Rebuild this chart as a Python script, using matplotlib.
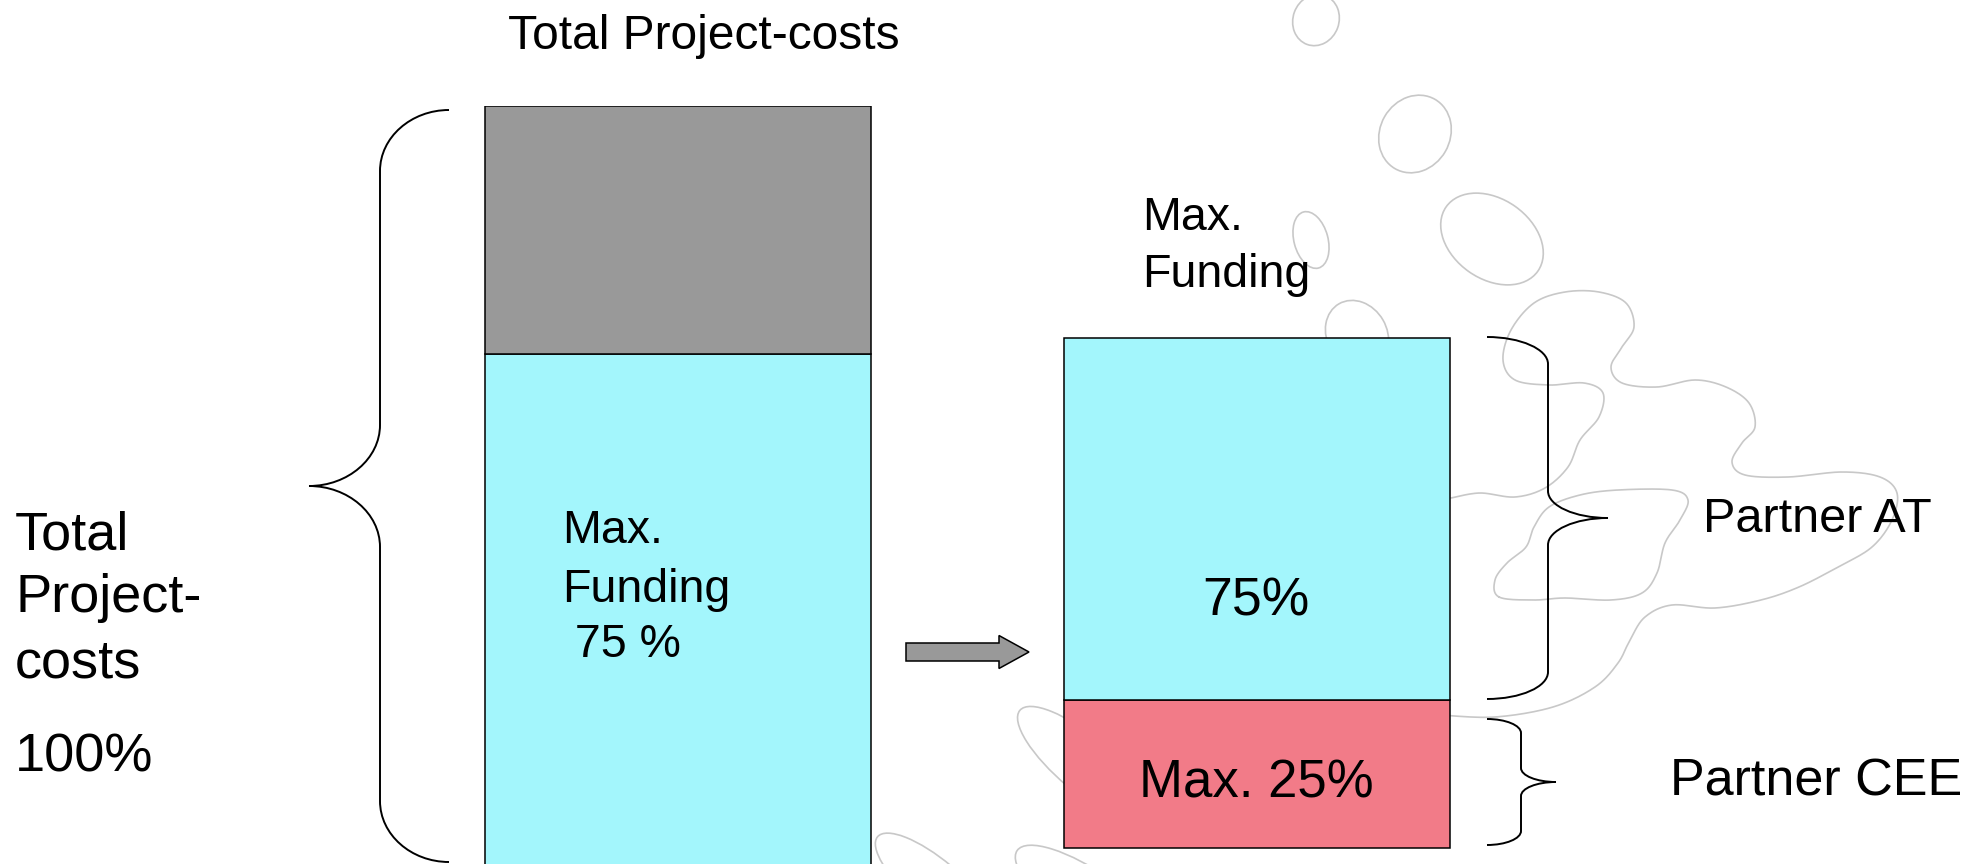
import numpy as np
import matplotlib.pyplot as plt
from matplotlib.patches import Ellipse, FancyArrow, PathPatch
from matplotlib.path import Path

plt.rcParams["font.family"] = ["Liberation Sans", "DejaVu Sans"]

# Share of total project costs (%), as drawn in the diagram
left_funding = 75      # max. funding part (cyan)
left_rest = 25         # not funded (grey)
right_bottom = 25.2    # the funding bar floats next to the total bar
right_cee = 14.9       # Partner CEE, max. 25 %
right_at = 36.5        # Partner AT, 75 %

CYAN = "#a3f6fc"
GREY = "#999999"
RED = "#f27b88"
DOODLE = "#c8c8c8"

W, H = 1984, 864
fig = plt.figure(figsize=(W / 100, H / 100), dpi=100)

# background doodles, pixel coordinates
bg = fig.add_axes([0, 0, 1, 1])
bg.set_xlim(0, W)
bg.set_ylim(H, 0)
bg.axis("off")

ellipses = [  # (cx, cy, w, h, angle)
    (1316, 20, 46, 52, 20),
    (1415, 134, 70, 80, 30),
    (1311, 240, 34, 58, -15),
    (1492, 239, 112, 80, 35),
    (1357, 335, 60, 72, -30),
    (1085, 765, 170, 55, 40),
    (935, 885, 150, 50, 40),
    (1095, 905, 190, 60, 35),
]
for cx, cy, w, h, ang in ellipses:
    bg.add_patch(Ellipse((cx, cy), w, h, angle=ang, fill=False,
                         ec=DOODLE, lw=1.2))


def smooth(pts, closed=True, n=20):
    # Catmull-Rom through the points
    p = np.array(pts, float)
    if closed:
        p = np.vstack([p[-1], p, p[0], p[1]])
    else:
        p = np.vstack([p[0], p, p[-1]])
    out = []
    t = np.linspace(0, 1, n, endpoint=False)[:, None]
    for i in range(1, len(p) - 2):
        p0, p1, p2, p3 = p[i - 1], p[i], p[i + 1], p[i + 2]
        out.append(0.5 * ((2 * p1) + (-p0 + p2) * t
                          + (2 * p0 - 5 * p1 + 4 * p2 - p3) * t ** 2
                          + (-p0 + 3 * p1 - 3 * p2 + p3) * t ** 3))
    out = np.vstack(out)
    if closed:
        out = np.vstack([out, out[0]])
    return out


blob = [(1451, 498), (1480, 493), (1515, 497), (1545, 488), (1568, 467),
        (1580, 440), (1599, 417), (1603, 393), (1584, 383), (1549, 385),
        (1515, 380), (1503, 360), (1511, 330), (1534, 303), (1565, 292),
        (1599, 292), (1626, 303), (1634, 327), (1622, 347), (1611, 367),
        (1622, 383), (1657, 387), (1695, 380), (1726, 387), (1749, 403),
        (1755, 427), (1742, 443), (1732, 462), (1745, 475), (1788, 477),
        (1842, 472), (1880, 477), (1897, 493), (1892, 520), (1872, 547),
        (1838, 567), (1799, 587), (1761, 600), (1715, 608), (1672, 605),
        (1645, 617), (1630, 640), (1618, 663), (1595, 687), (1553, 707),
        (1495, 717), (1440, 715)]
inner = [(1499, 597), (1495, 580), (1507, 563), (1526, 547), (1534, 527),
         (1549, 507), (1580, 495), (1618, 490), (1672, 490), (1688, 500),
         (1680, 520), (1665, 543), (1657, 573), (1642, 593), (1611, 600),
         (1565, 598), (1534, 600)]
c = smooth(blob, closed=False)
bg.plot(c[:, 0], c[:, 1], color=DOODLE, lw=1.2)
c = smooth(inner)
bg.plot(c[:, 0], c[:, 1], color=DOODLE, lw=1.2)

# bars, y axis in % of total project costs
ax = fig.add_axes([0, (H - 1098) / H, 1, 992 / H])
ax.set_facecolor("none")
span = 579
ax.set_xlim(-678 / span, (W - 678) / span)
ax.set_ylim(0, 100)
ax.axis("off")
bw = 386 / span
ax.bar(0, left_funding, bw, color=CYAN, edgecolor="black", lw=1.1)
ax.bar(0, left_rest, bw, bottom=left_funding, color=GREY,
       edgecolor="black", lw=1.1)
ax.bar(1, right_cee, bw, bottom=right_bottom, color=RED,
       edgecolor="black", lw=1.1)
ax.bar(1, right_at, bw, bottom=right_bottom + right_cee, color=CYAN,
       edgecolor="black", lw=1.1)

# braces, arrow and labels, pixel coordinates
fg = fig.add_axes([0, 0, 1, 1])
fg.set_facecolor("none")
fg.set_xlim(0, W)
fg.set_ylim(H, 0)
fg.axis("off")


def brace(x_end, x_stem, x_tip, y0, y1, r, lw=1.4):
    k = 0.55
    ym = (y0 + y1) / 2
    v = [(x_end, y0),
         (x_end + k * (x_stem - x_end), y0), (x_stem, y0 + r - k * r), (x_stem, y0 + r),
         (x_stem, ym - r),
         (x_stem, ym - r + k * r), (x_tip - k * (x_tip - x_stem), ym), (x_tip, ym),
         (x_tip - k * (x_tip - x_stem), ym), (x_stem, ym + r - k * r), (x_stem, ym + r),
         (x_stem, y1 - r),
         (x_stem, y1 - r + k * r), (x_end + k * (x_stem - x_end), y1), (x_end, y1)]
    codes = [Path.MOVETO, Path.CURVE4, Path.CURVE4, Path.CURVE4, Path.LINETO,
             Path.CURVE4, Path.CURVE4, Path.CURVE4,
             Path.CURVE4, Path.CURVE4, Path.CURVE4, Path.LINETO,
             Path.CURVE4, Path.CURVE4, Path.CURVE4]
    fg.add_patch(PathPatch(Path(v, codes), fill=False, ec="black", lw=lw))


brace(449, 380, 309, 110, 862, 61)
brace(1487, 1548, 1608, 337, 699, 27)
brace(1487, 1521, 1556, 719, 845, 14)

fg.add_patch(FancyArrow(906, 652, 123, 0, width=18, head_width=33,
                        head_length=30, length_includes_head=True,
                        fc=GREY, ec="black", lw=1.1))


def txt(x, y, s, size, ha="left"):
    fg.text(x, y, s, fontsize=size, ha=ha, va="baseline", color="black")


txt(704, 49, "Total Project-costs", 34.5, ha="center")
for s, y in [("Total", 550), ("Project-", 612), ("costs", 677), ("100%", 772)]:
    txt(15, y, s, 39)
for s, y in [("Max.", 543), ("Funding", 602), (" 75 %", 657)]:
    txt(562, y, s, 33.5)
for s, y in [("Max.", 230), ("Funding", 287)]:
    txt(1142, y, s, 33.5)
txt(1256, 616, "75%", 38.5, ha="center")
txt(1256, 797, "Max. 25%", 38, ha="center")
txt(1703, 532, "Partner AT", 35)
txt(1670, 795, "Partner CEE", 37.5)

fig.savefig("out.png", dpi=100)
